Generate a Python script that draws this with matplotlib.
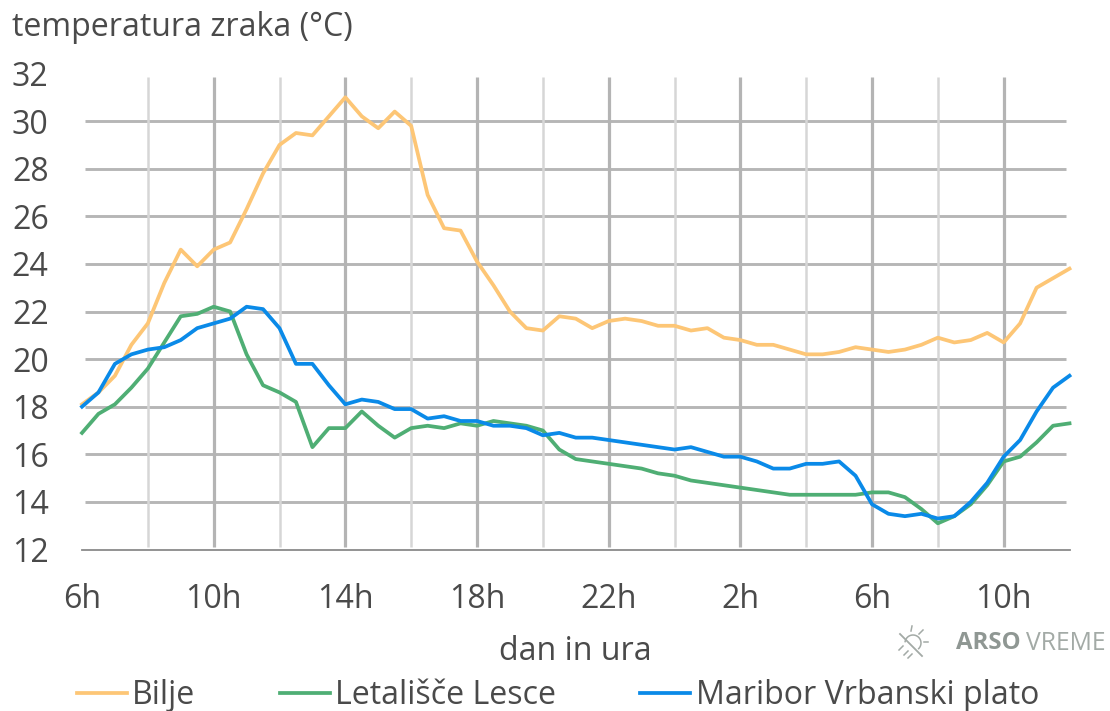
import matplotlib
matplotlib.use('Agg')
import matplotlib.pyplot as plt
import numpy as np

# half-hourly readings from 6h to 12h the next day
bilje = [18.1, 18.6, 19.3, 20.6, 21.5, 23.2, 24.6, 23.9, 24.6, 24.9, 26.3, 27.8, 29.0, 29.5, 29.4,
         30.2, 31.0, 30.2, 29.7, 30.4, 29.8, 26.9, 25.5, 25.4, 24.1, 23.1, 22.0, 21.3, 21.2, 21.8,
         21.7, 21.3, 21.6, 21.7, 21.6, 21.4, 21.4, 21.2, 21.3, 20.9, 20.8, 20.6, 20.6, 20.4, 20.2,
         20.2, 20.3, 20.5, 20.4, 20.3, 20.4, 20.6, 20.9, 20.7, 20.8, 21.1, 20.7, 21.5, 23.0, 23.4, 23.8]
lesce = [16.9, 17.7, 18.1, 18.8, 19.6, 20.7, 21.8, 21.9, 22.2, 22.0, 20.2, 18.9, 18.6, 18.2, 16.3,
         17.1, 17.1, 17.8, 17.2, 16.7, 17.1, 17.2, 17.1, 17.3, 17.2, 17.4, 17.3, 17.2, 17.0, 16.2,
         15.8, 15.7, 15.6, 15.5, 15.4, 15.2, 15.1, 14.9, 14.8, 14.7, 14.6, 14.5, 14.4, 14.3, 14.3,
         14.3, 14.3, 14.3, 14.4, 14.4, 14.2, 13.7, 13.1, 13.4, 13.9, 14.7, 15.7, 15.9, 16.5, 17.2, 17.3]
maribor = [18.0, 18.6, 19.8, 20.2, 20.4, 20.5, 20.8, 21.3, 21.5, 21.7, 22.2, 22.1, 21.3, 19.8, 19.8,
           18.9, 18.1, 18.3, 18.2, 17.9, 17.9, 17.5, 17.6, 17.4, 17.4, 17.2, 17.2, 17.1, 16.8, 16.9,
           16.7, 16.7, 16.6, 16.5, 16.4, 16.3, 16.2, 16.3, 16.1, 15.9, 15.9, 15.7, 15.4, 15.4, 15.6,
           15.6, 15.7, 15.1, 13.9, 13.5, 13.4, 13.5, 13.3, 13.4, 14.0, 14.8, 15.9, 16.6, 17.8, 18.8, 19.3]
x_labels = ['6h', '10h', '14h', '18h', '22h', '2h', '6h', '10h']
y_ticks = [12, 14, 16, 18, 20, 22, 24, 26, 28, 30, 32]

W, H = 1110, 711
TXT = '#4a4a4a'
FS = 23.1
plt.rcParams['font.family'] = ['Open Sans', 'DejaVu Sans']

fig = plt.figure(figsize=(W / 100, H / 100), dpi=100)
# axes box in pixels: left 82, right 1070, top 74, bottom 550
ax = fig.add_axes([82 / W, 1 - 549.5 / H, 988 / W, 476 / H])
x = np.arange(len(bilje))
ax.set_xlim(0, 60.03)
ax.set_ylim(12, 32)

# grid by hand because the lines stop short of the frame
for v in y_ticks[1:-1]:
    ax.plot([0.18, 59.8], [v, v], color='#b6b6b6', lw=2.1, zorder=1, solid_capstyle='butt')
for i in range(4, 60, 4):
    col = '#b4b4b4' if i % 8 == 0 else '#d6d6d6'
    w = 2.3 if i % 8 == 0 else 1.8
    ax.plot([i, i], [12.1, 31.85], color=col, lw=w, zorder=1.5, solid_capstyle='butt')

ax.plot(x, bilje, color='#fdc676', lw=2.7, label='Bilje', zorder=3, clip_on=False)
ax.plot(x, lesce, color='#4fae74', lw=2.7, label='Letališče Lesce', zorder=4, clip_on=False)
ax.plot(x, maribor, color='#0a8ae8', lw=2.7, label='Maribor Vrbanski plato', zorder=5, clip_on=False)

for s in ['top', 'right', 'left']:
    ax.spines[s].set_visible(False)
ax.spines['bottom'].set_color('#8a8a8a')
ax.spines['bottom'].set_linewidth(1.3)

ax.set_yticks(y_ticks)
ax.set_xticks(np.arange(0, 60, 8))
ax.set_xticklabels(x_labels)
ax.tick_params(axis='both', length=0, labelsize=FS, labelcolor=TXT)
ax.tick_params(axis='x', pad=24)
ax.tick_params(axis='y', pad=24)

fig.text(12 / W, 1 - 27 / H, 'temperatura zraka (°C)', fontsize=FS, color=TXT, ha='left', va='center')
fig.text(575 / W, 1 - 651 / H, 'dan in ura', fontsize=FS, color=TXT, ha='center', va='center')

leg = fig.legend(loc='center left', bbox_to_anchor=(77 / W, 1 - 696 / H), ncol=3, frameon=False,
                 fontsize=FS, labelcolor=TXT, handlelength=1.56, handletextpad=0.16,
                 columnspacing=2.63, borderpad=0, borderaxespad=0)
for h in leg.get_lines():
    h.set_linewidth(2.7)

# logo, drawn in pixel coordinates
logo = fig.add_axes([0, 0, 1, 1])
logo.set_xlim(0, W)
logo.set_ylim(H, 0)
logo.axis('off')
logo.patch.set_alpha(0)
gray = '#a3aaa6'
t = np.radians(np.linspace(-170, 45, 30))
logo.plot(913 + 8 * np.cos(t), 643 + 8 * np.sin(t), color=gray, lw=1.1)
logo.plot([900, 922], [634, 656], color=gray, lw=1.3)
for (x0, y0, x1, y1) in [(911, 631, 912, 626), (919, 634, 923, 630), (924, 642, 928, 642),
                         (899, 650, 903, 646), (904, 655, 908, 651), (908, 658, 912, 654)]:
    logo.plot([x0, x1], [y0, y1], color=gray, lw=1.1)
logo.text(956, 643, 'ARSO', fontsize=17.3, fontweight='bold', color='#8f9793', ha='left', va='center')
logo.text(1026, 643, 'VREME', fontsize=17.8, color='#a3aaa6', ha='left', va='center')

fig.savefig('out.png', dpi=100)
